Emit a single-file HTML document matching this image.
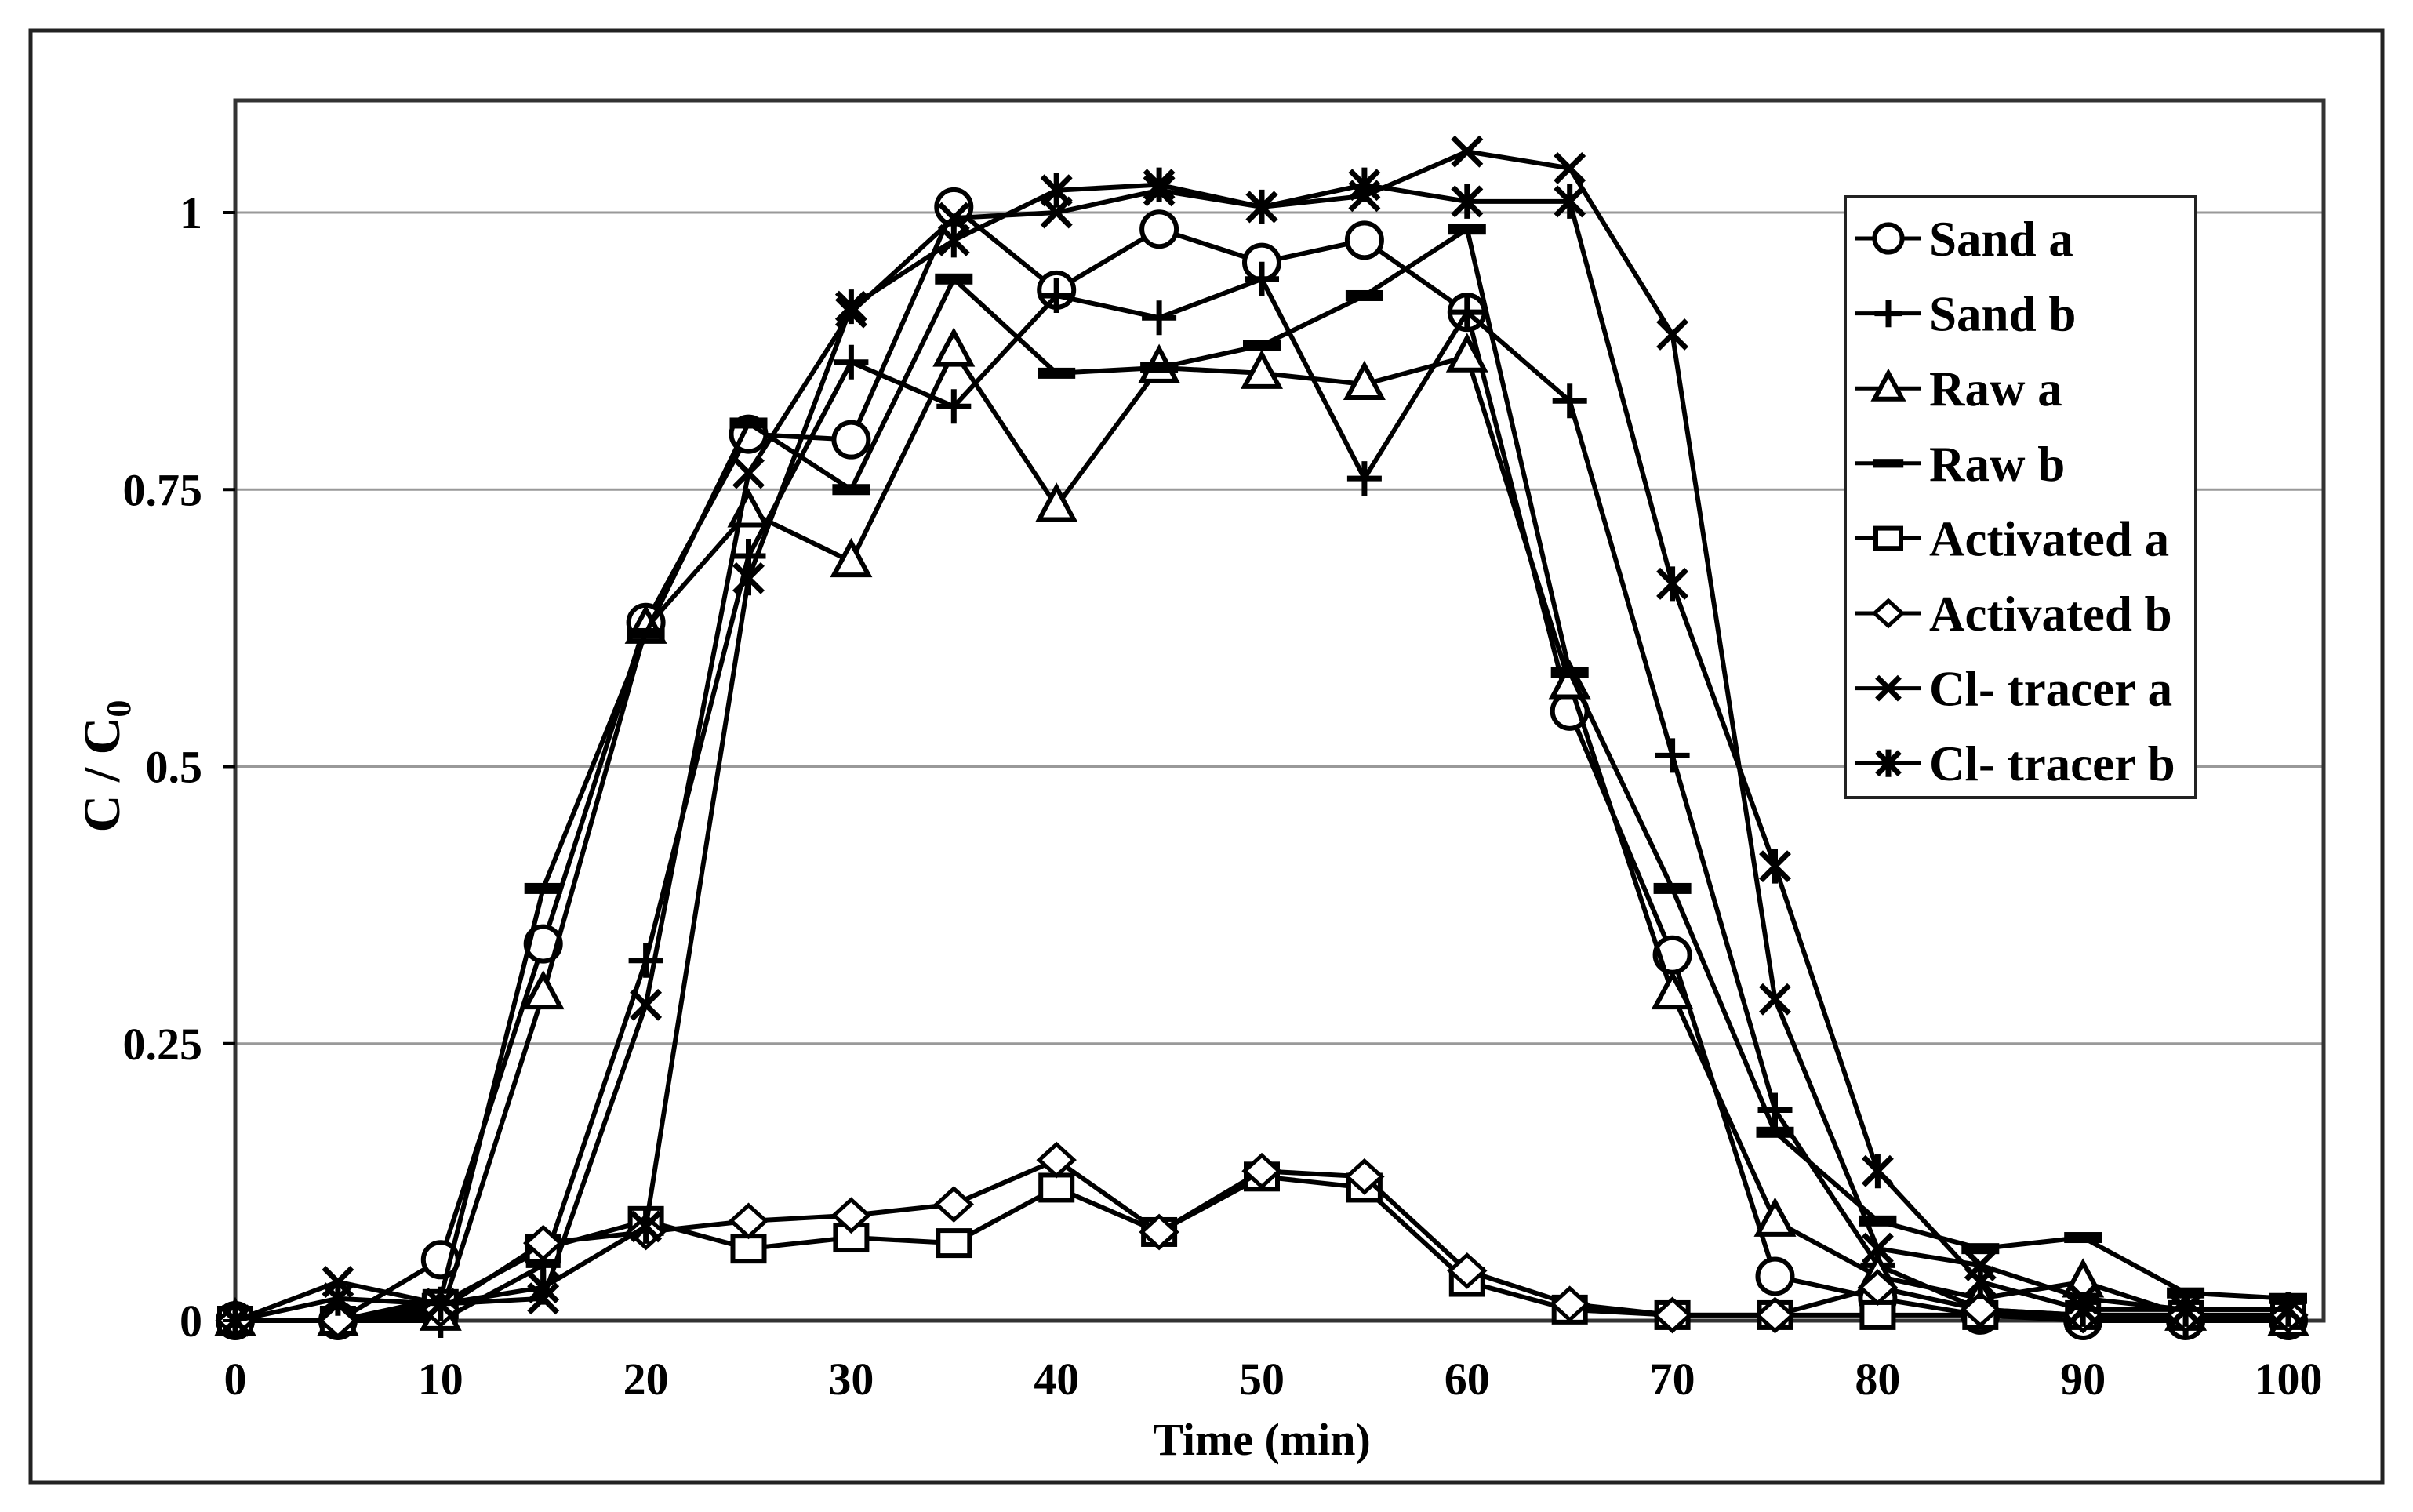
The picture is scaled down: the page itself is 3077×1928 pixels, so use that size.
<!DOCTYPE html>
<html><head><meta charset="utf-8"><style>
html,body{margin:0;padding:0;background:#fff;}
svg{display:block;}
text{font-family:"Liberation Serif",serif;font-weight:bold;fill:#000;}
</style></head><body>
<svg id="chart" width="3077" height="1928" viewBox="0 0 3077 1928" xmlns="http://www.w3.org/2000/svg">
<rect x="39" y="39" width="2999" height="1851" fill="#fff" stroke="#222" stroke-width="5"/>
<g id="grid"></g>
<rect x="300" y="128" width="2663" height="1556" fill="none" stroke="#333" stroke-width="5"/>
<g id="series"></g>
<g id="ticks"></g>
<text transform="translate(152,977) rotate(-90)" text-anchor="middle" font-size="66">C / C<tspan font-size="44" dy="14">0</tspan></text>
<text x="1609" y="1855" text-anchor="middle" font-size="58">Time (min)</text>
<g id="legend"></g>
</svg>
<script>
const times = [0,5,10,15,20,25,30,35,40,45,50,55,60,65,70,75,80,85,90,95,100];
const seriesNames = ["Sand a","Sand b","Raw a","Raw b","Activated a","Activated b","Cl- tracer a","Cl- tracer b"];
const sandA = [0,0,0.055,0.34,0.63,0.80,0.795,1.005,0.93,0.985,0.955,0.975,0.91,0.55,0.33,0.04,0.02,0.005,0,0,0];
const sandB = [0,0,0,0.05,0.325,0.69,0.865,0.825,0.925,0.905,0.94,0.76,0.91,0.83,0.51,0.19,0.05,0.01,0.005,0,0];
const rawA = [0,0,0.005,0.295,0.625,0.73,0.685,0.875,0.735,0.86,0.855,0.845,0.87,0.575,0.295,0.09,0.04,0.02,0.035,0.005,0];
const rawB = [0,0,0.02,0.39,0.62,0.81,0.75,0.94,0.855,0.86,0.88,0.925,0.985,0.585,0.39,0.17,0.09,0.065,0.075,0.025,0.02];
const actA = [0,0,0.015,0.065,0.09,0.065,0.075,0.07,0.12,0.08,0.13,0.12,0.035,0.01,0.005,0.005,0.005,0.005,0.005,0.005,0.005];
const actB = [0,0,0.01,0.07,0.08,0.09,0.095,0.105,0.145,0.08,0.135,0.13,0.045,0.015,0.005,0.005,0.03,0.01,0.005,0.005,0.005];
const clA = [0,0.035,0.015,0.02,0.285,0.765,0.91,0.995,1.0,1.02,1.005,1.015,1.055,1.04,0.89,0.29,0.065,0.05,0.02,0.01,0.01];
const clB = [0,0.02,0.015,0.03,0.085,0.67,0.915,0.975,1.02,1.025,1.005,1.025,1.01,1.01,0.665,0.41,0.135,0.035,0.01,0.01,0.01];
const xTicks = [0,10,20,30,40,50,60,70,80,90,100];
const yTicks = [0,0.25,0.5,0.75,1];
const yTickLabels = ["0","0.25","0.5","0.75","1"];

const NS="http://www.w3.org/2000/svg";
function X(v){return 300+v*26.18;}
function Y(v){return 1684-v*1413;}
function mk(tag,attrs,parent){const e=document.createElementNS(NS,tag);for(const k in attrs)e.setAttribute(k,attrs[k]);parent.appendChild(e);return e;}

const grid=document.getElementById('grid');
yTicks.forEach(function(t){ if(t>0){
 const l=mk('line',{x1:300,x2:2963,y1:Y(t),y2:Y(t),stroke:'#999','stroke-width':3},grid);
 
 
}});
const ticks=document.getElementById('ticks');
yTicks.forEach(function(t,i){
 const l=mk('line',{x1:284,x2:300,y1:Y(t),y2:Y(t),stroke:'#000','stroke-width':4},ticks);
 
 
 const tx=mk('text',{x:258,y:Y(t)+20,'text-anchor':'end','font-size':58},ticks);
 tx.textContent=yTickLabels[i];
 
 
});
xTicks.forEach(function(t){
 const tx=mk('text',{x:X(t),y:1778,'text-anchor':'middle','font-size':58},ticks);
 tx.textContent=String(t);
 
 
});

function marker(type,cx,cy,g,s){
 s=s||1;const sw=6;
 if(type==='circle') mk('circle',{cx:cx,cy:cy,r:22*s,fill:'#fff',stroke:'#000','stroke-width':sw},g);
 else if(type==='plus'){mk('line',{x1:cx-22*s,x2:cx+22*s,y1:cy,y2:cy,stroke:'#000','stroke-width':7},g);mk('line',{x1:cx,x2:cx,y1:cy-22*s,y2:cy+22*s,stroke:'#000','stroke-width':7},g);}
 else if(type==='tri') mk('polygon',{points:(cx)+','+(cy-24*s)+' '+(cx+22*s)+','+(cy+17*s)+' '+(cx-22*s)+','+(cy+17*s),fill:'#fff',stroke:'#000','stroke-width':sw},g);
 else if(type==='dash') mk('rect',{x:cx-24*s,y:cy-7*s,width:48*s,height:14*s,fill:'#000'},g);
 else if(type==='square') mk('rect',{x:cx-20*s,y:cy-16*s,width:40*s,height:32*s,fill:'#fff',stroke:'#000','stroke-width':sw},g);
 else if(type==='diamond') mk('polygon',{points:cx+','+(cy-20*s)+' '+(cx+22*s)+','+cy+' '+cx+','+(cy+20*s)+' '+(cx-22*s)+','+cy,fill:'#fff',stroke:'#000','stroke-width':5},g);
 else if(type==='x'){mk('line',{x1:cx-18*s,x2:cx+18*s,y1:cy-18*s,y2:cy+18*s,stroke:'#000','stroke-width':7},g);mk('line',{x1:cx-18*s,x2:cx+18*s,y1:cy+18*s,y2:cy-18*s,stroke:'#000','stroke-width':7},g);}
 else if(type==='star'){mk('line',{x1:cx-18*s,x2:cx+18*s,y1:cy-18*s,y2:cy+18*s,stroke:'#000','stroke-width':7},g);mk('line',{x1:cx-18*s,x2:cx+18*s,y1:cy+18*s,y2:cy-18*s,stroke:'#000','stroke-width':7},g);mk('line',{x1:cx,x2:cx,y1:cy-22*s,y2:cy+22*s,stroke:'#000','stroke-width':7},g);}
}

const allData=[sandA,sandB,rawA,rawB,actA,actB,clA,clB];
const types=['circle','plus','tri','dash','square','diamond','x','star'];
const keys=['sand-a','sand-b','raw-a','raw-b','activated-a','activated-b','cl-tracer-a','cl-tracer-b'];
const sg=document.getElementById('series');
allData.forEach(function(d,si){
 const g=mk('g',{},sg);
 
 
 const pts=d.map(function(v,i){return X(times[i])+','+Y(v);}).join(' ');
 const pl=mk('polyline',{points:pts,fill:'none',stroke:'#000','stroke-width':6,'stroke-linejoin':'round'},g);
 
 
 d.forEach(function(v,i){
  const mg=mk('g',{},g);
  
  
  marker(types[si],X(times[i]),Y(v),mg);
 });
});

const lg=document.getElementById('legend');


mk('rect',{x:2353,y:251,width:447,height:766,fill:'#fff',stroke:'#222',"stroke-width":4},lg);
seriesNames.forEach(function(n,i){
 const cy=304+i*95.6;
 const e=mk('g',{},lg);
 
 
 mk('line',{x1:2366,x2:2450,y1:cy,y2:cy,stroke:'#000','stroke-width':5},e);
 marker(types[i],2408,cy,e,0.8);
 const t=mk('text',{x:2460,y:cy+22,'font-size':63},e);
 t.textContent=n;
});
</script>
</body></html>
